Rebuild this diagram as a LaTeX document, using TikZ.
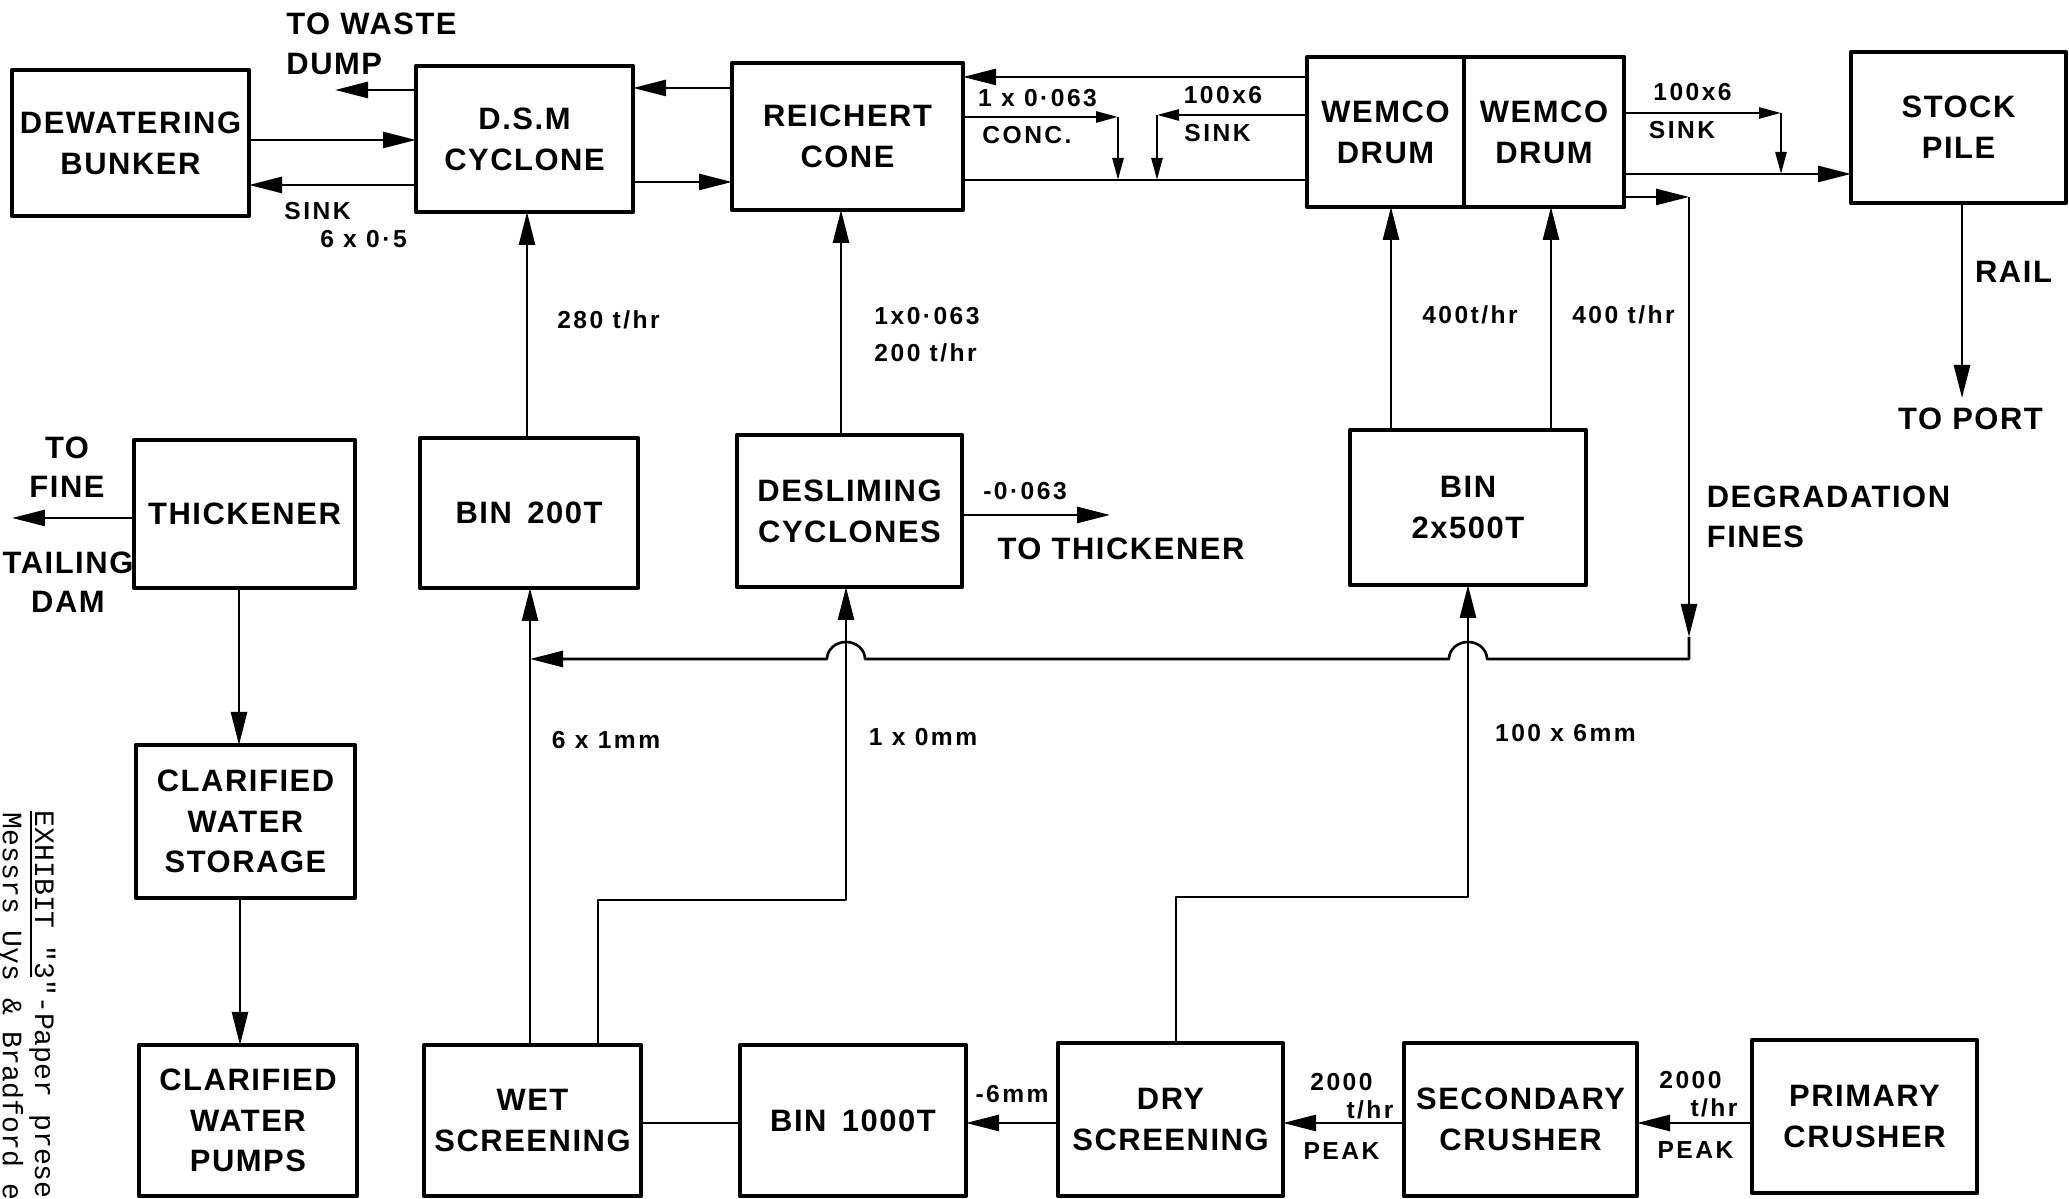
\documentclass[tikz,border=0pt]{standalone}
\usepackage{fontspec}
\setmainfont{Liberation Sans}[LetterSpace=5]
\newfontfamily\tagfamily{Liberation Sans}[LetterSpace=10]
\newfontfamily\typefamily{Liberation Mono}
\usetikzlibrary{arrows.meta, calc}

\begin{document}
\begin{tikzpicture}[line join=round]
  \tikzset{
    plantbox/.style={draw, line width=1.3pt, inner sep=0pt, outer sep=0pt, align=center,
      font=\fontsize{8.8}{11.6}\selectfont\bfseries},
    boxsize/.style 2 args={minimum width=#1cm, minimum height=#2cm},
    flowline/.style={line width=0.75pt},
    flowarrow/.style={flowline, -{Triangle[length=3.3mm, width=1.6mm]}},
    flowarrowsm/.style={flowline, -{Triangle[length=2.2mm, width=1.1mm]}},
    bigtag/.style={inner sep=0pt, align=left, font=\fontsize{8.8}{11.2}\selectfont\bfseries},
    flowtag/.style={inner sep=0pt, align=left, font=\tagfamily\fontsize{7}{10.5}\selectfont\bfseries},
  }
  \useasboundingbox (0,0) rectangle (20.69,11.99);

  %% ===== Top row: washing plant =====
  \node[plantbox, boxsize={2.37}{1.46}] (dewater) at (1.305,10.56) {DEWATERING\\BUNKER};
  \node[plantbox, boxsize={2.17}{1.46}] (dsm) at (5.245,10.60) {D.S.M\\CYCLONE};
  \node[plantbox, boxsize={2.31}{1.47}] (reichert) at (8.475,10.625) {REICHERT\\CONE};
  \node[plantbox, boxsize={1.57}{1.50}] (wemcoA) at (13.855,10.67) {WEMCO\\DRUM};
  \node[plantbox, boxsize={1.60}{1.50}] (wemcoB) at (15.44,10.67) {WEMCO\\DRUM};
  \node[plantbox, boxsize={2.15}{1.51}] (stock) at (19.585,10.715) {STOCK\\PILE};

  %% ===== Middle row =====
  \node[plantbox, boxsize={2.21}{1.48}] (thick) at (2.445,6.85) {THICKENER};
  \node[plantbox, boxsize={2.18}{1.50}] (bin200) at (5.29,6.86) {BIN\enspace 200T};
  \node[plantbox, boxsize={2.25}{1.52}] (deslime) at (8.495,6.88) {DESLIMING\\CYCLONES};
  \node[plantbox, boxsize={2.36}{1.55}] (bin500) at (14.68,6.915) {BIN\\2x500T};
  \node[plantbox, boxsize={2.19}{1.53}] (cwstore) at (2.455,3.775) {CLARIFIED\\WATER\\STORAGE};

  %% ===== Bottom row: crushing and screening =====
  \node[plantbox, boxsize={2.18}{1.51}] (cwpump) at (2.48,0.785) {CLARIFIED\\WATER\\PUMPS};
  \node[plantbox, boxsize={2.17}{1.51}] (wetscr) at (5.325,0.785) {WET\\SCREENING};
  \node[plantbox, boxsize={2.26}{1.51}] (bin1000) at (8.53,0.785) {BIN\enspace 1000T};
  \node[plantbox, boxsize={2.25}{1.53}] (dryscr) at (11.705,0.795) {DRY\\SCREENING};
  \node[plantbox, boxsize={2.33}{1.53}] (second) at (15.205,0.795) {SECONDARY\\CRUSHER};
  \node[plantbox, boxsize={2.25}{1.53}] (primary) at (18.645,0.825) {PRIMARY\\CRUSHER};

  % free ends and turning points
  \coordinate (waste) at (3.35,11.09);
  \coordinate (concturn) at (11.18,10.82);
  \coordinate (concend) at (11.18,10.19);
  \coordinate (sinkturn) at (11.57,10.84);
  \coordinate (sinkend) at (11.57,10.19);
  \coordinate (sinkturnB) at (17.81,10.86);
  \coordinate (sinkendB) at (17.81,10.25);
  \coordinate (port) at (19.62,8.01);
  \coordinate (degturn) at (16.89,10.02);
  \coordinate (degdrop) at (16.89,5.40);
  \coordinate (finesin) at (5.30,5.40);
  \coordinate (hopA) at (8.46,5.40);
  \coordinate (hopB) at (14.68,5.40);
  \coordinate (slimeturn) at (5.98,2.99);
  \coordinate (dryturn) at (11.76,3.02);
  \coordinate (tailings) at (0.12,6.81);
  \coordinate (slimeout) at (11.10,6.84);

  %% ===== Top row connectors =====
  \draw[flowarrow] (dsm.west |- waste) -- (waste);
  \draw[flowarrow] (dewater.east |- 0,10.59) -- (dsm.west |- 0,10.59);
  \draw[flowarrow] (dsm.west |- 0,10.14) -- (dewater.east |- 0,10.14);
  \draw[flowarrow] (reichert.west |- 0,11.11) -- (dsm.east |- 0,11.11);
  \draw[flowarrow] (dsm.east |- 0,10.17) -- (reichert.west |- 0,10.17);
  \draw[flowarrow] (wemcoA.west |- 0,11.22) -- (reichert.east |- 0,11.22);
  \draw[flowarrowsm] (reichert.east |- concturn) -- (concturn);
  \draw[flowarrowsm] (concturn) -- (concend);
  \draw[flowarrowsm] (wemcoA.west |- sinkturn) -- (sinkturn);
  \draw[flowarrowsm] (sinkturn) -- (sinkend);
  \draw[flowline] (reichert.east |- concend) -- (wemcoA.west |- concend);
  \draw[flowarrowsm] (wemcoB.east |- sinkturnB) -- (sinkturnB);
  \draw[flowarrowsm] (sinkturnB) -- (sinkendB);
  \draw[flowarrow] (wemcoB.east |- sinkendB) -- (stock.west |- sinkendB);
  \draw[flowarrow] (stock.south -| port) -- (port);

  % degradation fines back to the 200T bin feed
  \draw[flowarrow] (wemcoB.east |- degturn) -- (degturn);
  \draw[flowarrow] (degturn) -- ($(degdrop)+(0,0.22)$);
  \draw[flowarrow] ($(degdrop)+(0,0.22)$) -- (degdrop)
    -- ($(hopB)+(0.19,0)$) arc[start angle=0, end angle=180, x radius=0.19, y radius=0.17]
    -- ($(hopA)+(0.19,0)$) arc[start angle=0, end angle=180, x radius=0.19, y radius=0.17]
    -- (finesin);

  %% ===== Upward feeds =====
  \draw[flowarrow] (bin200.north -| 5.27,0) -- (dsm.south -| 5.27,0);
  \draw[flowarrow] (deslime.north -| 8.41,0) -- (reichert.south -| 8.41,0);
  \draw[flowarrow] (bin500.north -| 13.91,0) -- (wemcoA.south -| 13.91,0);
  \draw[flowarrow] (bin500.north -| 15.51,0) -- (wemcoB.south -| 15.51,0);
  \draw[flowarrow] (wetscr.north -| finesin) -- (bin200.south -| finesin);
  \draw[flowarrow] (wetscr.north -| slimeturn) -- (slimeturn) -- (hopA |- slimeturn) -- (deslime.south -| hopA);
  \draw[flowarrow] (dryscr.north -| dryturn) -- (dryturn) -- (hopB |- dryturn) -- (bin500.south);
  \draw[flowarrow] (deslime.east |- slimeout) -- (slimeout);

  %% ===== Water circuit =====
  \draw[flowarrow] (thick.west |- tailings) -- (tailings);
  \draw[flowarrow] (thick.south -| 2.39,0) -- (cwstore.north -| 2.39,0);
  \draw[flowarrow] (cwstore.south -| 2.40,0) -- (cwpump.north -| 2.40,0);

  %% ===== Bottom row connectors =====
  \draw[flowline] (bin1000.west |- 0,0.76) -- (wetscr.east |- 0,0.76);
  \draw[flowarrow] (dryscr.west |- 0,0.76) -- (bin1000.east |- 0,0.76);
  \draw[flowarrow] (second.west |- 0,0.76) -- (dryscr.east |- 0,0.76);
  \draw[flowarrow] (primary.west |- 0,0.76) -- (second.east |- 0,0.76);

  %% ===== Labels =====
  \node[bigtag] (wastetag) at (3.715,11.55) {TO WASTE\\DUMP};
  \node[flowtag] (sinktagA) at (3.175,9.88) {SINK};
  \node[flowtag] (sizetagA) at (3.635,9.60) {6 x 0·5};
  \node[flowtag] (ratetagA) at (6.085,8.79) {280 t/hr};
  \node[flowtag] (ratetagB) at (9.27,8.64) {1x0·063\\200 t/hr};
  \node[flowtag] (sizetagB) at (10.375,11.005) {1 x 0·063};
  \node[flowtag] (conctag) at (10.27,10.64) {CONC.};
  \node[flowtag] (sizetagC) at (12.23,11.04) {100x6};
  \node[flowtag] (sinktagB) at (12.175,10.655) {SINK};
  \node[flowtag] (sizetagD) at (16.925,11.065) {100x6};
  \node[flowtag] (sinktagC) at (16.82,10.69) {SINK};
  \node[flowtag] (ratetagC) at (14.70,8.84) {400t/hr};
  \node[flowtag] (ratetagD) at (16.235,8.84) {400 t/hr};
  \node[bigtag] (railtag) at (20.135,9.27) {RAIL};
  \node[bigtag] (porttag) at (19.705,7.8) {TO PORT};
  \node[bigtag] (degtag) at (18.285,6.82) {DEGRADATION\\FINES};
  \node[flowtag] (slimetag) at (10.25,7.08) {-0·063};
  \node[bigtag] (thicktag) at (11.21,6.505) {TO THICKENER};
  \node[bigtag, align=center] (finetag) at (0.67,7.32) {TO\\FINE};
  \node[bigtag, align=center] (damtag) at (0.68,6.17) {TAILING\\DAM};
  \node[flowtag] (sizetagE) at (6.06,4.59) {6 x 1mm};
  \node[flowtag] (sizetagF) at (9.23,4.615) {1 x 0mm};
  \node[flowtag] (sizetagG) at (15.655,4.655) {100 x 6mm};
  \node[flowtag] (sizetagH) at (10.12,1.05) {-6mm};
  \node[flowtag] (peaktagA) at (13.415,1.165) {2000};
  \node[flowtag] (unittagA) at (13.70,0.89) {t/hr};
  \node[flowtag] (peakA) at (13.415,0.48) {PEAK};
  \node[flowtag] (peaktagB) at (16.905,1.185) {2000};
  \node[flowtag] (unittagB) at (17.14,0.91) {t/hr};
  \node[flowtag] (peakB) at (16.955,0.49) {PEAK};

  % margin note of the paper
  \node[font=\typefamily\fontsize{8}{9}\selectfont, rotate=-90, anchor=base west, inner sep=0pt]
    (exhibit) at (0.35,3.89) {EXHIBIT "3"-Paper prese};
  \node[font=\typefamily\fontsize{8}{9}\selectfont, rotate=-90, anchor=base west, inner sep=0pt]
    (messrs) at (0.03,3.87) {Messrs Uys \& Bradford e};
  \draw[line width=0.5pt] (0.31,3.88) -- (0.31,2.22);
\end{tikzpicture}
\end{document}
